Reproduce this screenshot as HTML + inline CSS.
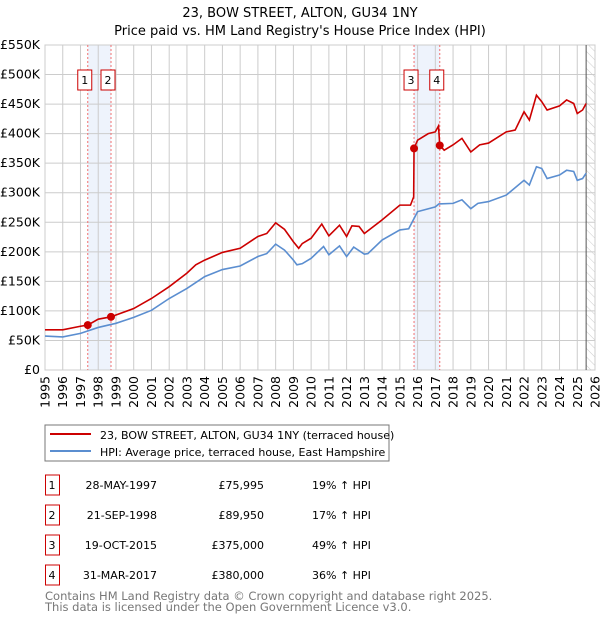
<!DOCTYPE html>
<html><head><meta charset="utf-8"><style>
body{margin:0;background:#fff;font-family:"DejaVu Sans","Liberation Sans",sans-serif;}
svg text{font-family:"DejaVu Sans","Liberation Sans",sans-serif;}
</style></head><body>
<svg id="c" width="600" height="620" xmlns="http://www.w3.org/2000/svg">
<defs><pattern id="hatch" width="6" height="6" patternUnits="userSpaceOnUse" patternTransform="rotate(-45)"><line x1="0" y1="0" x2="0" y2="6" stroke="#ccc" stroke-width="1"/></pattern></defs>
<text x="300" y="17" text-anchor="middle" font-size="13">23, BOW STREET, ALTON, GU34 1NY</text>
<text x="300" y="35" text-anchor="middle" font-size="13">Price paid vs. HM Land Registry's House Price Index (HPI)</text>
<g id="plot"></g>
<rect x="45" y="425" width="344" height="36" fill="#fff" stroke="#777"/>
<line x1="50" y1="434" x2="91" y2="434" stroke="#cc0000" stroke-width="2"/>
<text x="100" y="439" font-size="11">23, BOW STREET, ALTON, GU34 1NY (terraced house)</text>
<line x1="50" y1="451" x2="91" y2="451" stroke="#5b8ed0" stroke-width="2"/>
<text x="100" y="456" font-size="11">HPI: Average price, terraced house, East Hampshire</text>
<g id="table" font-size="11"></g>
<text x="45" y="600" font-size="11.5" fill="#777">Contains HM Land Registry data © Crown copyright and database right 2025.</text>
<text x="45" y="611" font-size="11.5" fill="#777">This data is licensed under the Open Government Licence v3.0.</text>
</svg>
<script>
const hpiYears=[1995,1996,1997,1998,1999,2000,2001,2002,2003,2003.7,2004,2005,2006,2007,2007.5,2008,2008.5,2009,2009.2,2009.5,2010,2010.7,2011,2011.6,2012,2012.4,2013,2013.2,2014,2015,2015.5,2016,2017,2017.2,2018,2018.5,2019,2019.4,2020,2021,2022,2022.3,2022.7,2023,2023.3,2024,2024.4,2024.8,2025,2025.3,2025.5];
const hpiValues=[57.5,56,62,72,79,89,101,121,138,152,158,170,176,192,197,213,203,186,178,180,189,209,195,210,192,208,196,197,220,237,239,268,276,281,282,288,273,282,285,296,321,313,344,341,324,330,338,336,321,324,333];
const propYears=[1995,1996,1997,1997.41,1998,1998.72,1999,2000,2001,2002,2003,2003.5,2004,2005,2006,2007,2007.5,2008,2008.5,2009,2009.3,2009.5,2010,2010.6,2011,2011.6,2012,2012.3,2012.7,2013,2014,2015,2015.6,2015.78,2015.8,2016,2016.6,2017,2017.18,2017.25,2017.5,2018,2018.5,2019,2019.5,2020,2021,2021.5,2022,2022.3,2022.7,2023,2023.3,2024,2024.4,2024.8,2025,2025.3,2025.5];
const propValues=[68,68,74,76,86,90,93,104,121,141,164,178,186,199,206,226,231,249,238,217,206,214,223,247,227,245,226,244,243,231,254,279,279,293,375,389,400,403,413,380,372,381,392,369,381,384,403,406,437,423,465,454,440,447,457,451,434,440,451];
const saleLabels=["1","2","3","4"];
const saleYears=[1997.41,1998.72,2015.8,2017.25];
const saleValues=[75.995,89.95,375,380];
const saleDates=["28-MAY-1997","21-SEP-1998","19-OCT-2015","31-MAR-2017"];
const salePrices=["£75,995","£89,950","£375,000","£380,000"];
const saleDiffs=["19% ↑ HPI","17% ↑ HPI","49% ↑ HPI","36% ↑ HPI"];
const yTicks=[0,50,100,150,200,250,300,350,400,450,500,550];
const yTickLabels=["£0","£50K","£100K","£150K","£200K","£250K","£300K","£350K","£400K","£450K","£500K","£550K"];
const xTicks=[1995,1996,1997,1998,1999,2000,2001,2002,2003,2004,2005,2006,2007,2008,2009,2010,2011,2012,2013,2014,2015,2016,2017,2018,2019,2020,2021,2022,2023,2024,2025,2026];

const X0=45,X1=595,Y0=370,Y1=45;
const x=v=>X0+(v-1995)/(2026-1995)*(X1-X0);
const y=v=>Y0-v/550*(Y0-Y1);
const NS="http://www.w3.org/2000/svg";
function mk(parent,tag,attrs){const e=document.createElementNS(NS,tag);for(const k in attrs)e.setAttribute(k,attrs[k]);parent.appendChild(e);return e;}
const g=document.getElementById('plot');
// shaded bands
for(let i=0;i<4;i+=2){
  const r=mk(g,'rect',{x:x(saleYears[i]),y:Y1,width:x(saleYears[i+1])-x(saleYears[i]),height:Y0-Y1,fill:'#eef3fc'});
  
  
}
// hatched future
const hz=mk(g,'rect',{x:x(2025.5),y:Y1,width:X1-x(2025.5),height:Y0-Y1,fill:'url(#hatch)'});


// grid
yTicks.forEach((t,i)=>{
  const l=mk(g,'line',{x1:X0,x2:X1,y1:y(t),y2:y(t),stroke:'#ccc'});
  
  
  const tx=mk(g,'text',{x:40,y:y(t)+4,'text-anchor':'end','font-size':'12.5'});
  tx.textContent=yTickLabels[i];
  
  
});
xTicks.forEach(t=>{
  const l=mk(g,'line',{x1:x(t),x2:x(t),y1:Y1,y2:Y0,stroke:'#ccc'});
  
  
  const tx=mk(g,'text',{x:0,y:0,'text-anchor':'end','font-size':'12.5',transform:`translate(${x(t)+4.5},376) rotate(-90)`});
  tx.textContent=t;
  
  
});
mk(g,'rect',{x:X0,y:Y1,width:X1-X0,height:Y0-Y1,fill:'none',stroke:'#ccc'});
const el=mk(g,'line',{x1:x(2025.5),x2:x(2025.5),y1:Y1,y2:Y0,stroke:'#555'});


// sale lines
saleYears.forEach(s=>{
  const l=mk(g,'line',{x1:x(s),x2:x(s),y1:Y1,y2:Y0,stroke:'#f07070','stroke-dasharray':'2,2'});
  
  
});
// series
const hp=mk(g,'polyline',{points:hpiYears.map((t,i)=>x(t)+','+y(hpiValues[i])).join(' '),fill:'none',stroke:'#5b8ed0','stroke-width':1.6});


const pp=mk(g,'polyline',{points:propYears.map((t,i)=>x(t)+','+y(propValues[i])).join(' '),fill:'none',stroke:'#cc0000','stroke-width':1.6});


saleYears.forEach((s,i)=>{
  const c=mk(g,'circle',{cx:x(s),cy:y(saleValues[i]),r:4,fill:'#cc0000'});
  
  
  const b=mk(g,'rect',{x:x(s)-10,y:70,width:14,height:20,fill:'#fff',stroke:'#cc0000'});
  
  
  const t=mk(g,'text',{x:x(s)-3,y:84,'text-anchor':'middle','font-size':'11'});
  t.textContent=saleLabels[i];
  
  
});
// table
const tb=document.getElementById('table');
saleLabels.forEach((lab,i)=>{
  const cy=485+i*30;
  const b=mk(tb,'rect',{x:45.5,y:cy-10,width:14,height:20,fill:'#fff',stroke:'#cc0000'});
  
  
  const vals=[[lab,52,'middle'],[saleDates[i],157,'end'],[salePrices[i],264,'end'],[saleDiffs[i],312,'start']];
  const names=['table-index','table-date','table-price','table-hpi-diff'];
  vals.forEach((v,j)=>{
    const t=mk(tb,'text',{x:v[1],y:cy+4,'text-anchor':v[2]});
    t.textContent=v[0];
    
    
  });
});
</script>
</body></html>
